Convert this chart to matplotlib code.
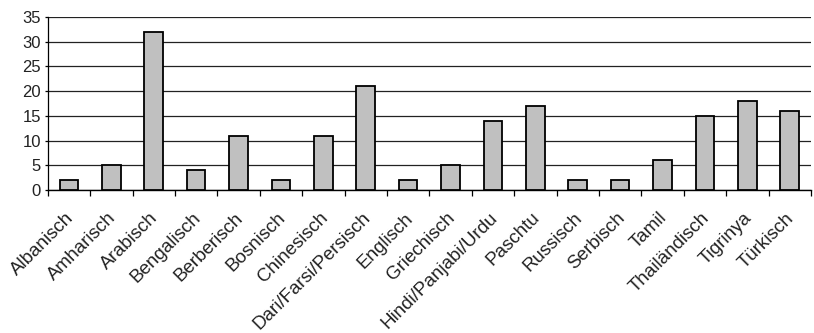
import matplotlib.pyplot as plt
from matplotlib.transforms import ScaledTranslation

plt.rcParams['font.family'] = ['Liberation Sans', 'DejaVu Sans']

sprachen = ["Albanisch", "Amharisch", "Arabisch", "Bengalisch", "Berberisch",
            "Bosnisch", "Chinesisch", "Dari/Farsi/Persisch", "Englisch",
            "Griechisch", "Hindi/Panjabi/Urdu", "Paschtu", "Russisch",
            "Serbisch", "Tamil", "Thailändisch", "Tigrinya", "Türkisch"]
anzahl = [2, 5, 32, 4, 11, 2, 11, 21, 2, 5, 14, 17, 2, 2, 6, 15, 18, 16]
y_ticks = [0, 5, 10, 15, 20, 25, 30, 35]

fig = plt.figure(figsize=(8.14, 3.33), dpi=100)
ax = fig.add_axes([0.0586, 0.4294, 0.9377, 0.5196])

x = list(range(len(sprachen)))
ax.bar(x, anzahl, width=0.44, color="#c0c0c0", edgecolor="black",
       linewidth=1.3, zorder=3)

ax.set_ylim(0, 35)
ax.set_xlim(-0.5, len(sprachen) - 0.5)
ax.set_yticks(y_ticks)
ax.yaxis.grid(True, color="#222222", linewidth=0.9)
ax.set_axisbelow(True)

ax.set_xticks(x)
ax.set_xticklabels(sprachen, rotation=45, ha="right", rotation_mode="anchor",
                   color="#222222")
ax.set_xticks([i - 0.5 for i in range(len(sprachen) + 1)], minor=True)
ax.tick_params(axis="x", which="major", length=0, pad=14, labelsize=13.5)
ax.tick_params(axis="x", which="minor", length=4, width=0.9)
ax.tick_params(axis="y", length=2, width=0.9, labelsize=12, pad=3,
               labelcolor="#222222")

shift = ScaledTranslation(-4 / 100, 0, fig.dpi_scale_trans)
for lbl in ax.get_xticklabels():
    lbl.set_transform(lbl.get_transform() + shift)

for s in ["top", "right"]:
    ax.spines[s].set_visible(False)
ax.spines["left"].set_linewidth(0.9)
ax.spines["bottom"].set_linewidth(1.0)

fig.savefig("out.png", dpi=100)
